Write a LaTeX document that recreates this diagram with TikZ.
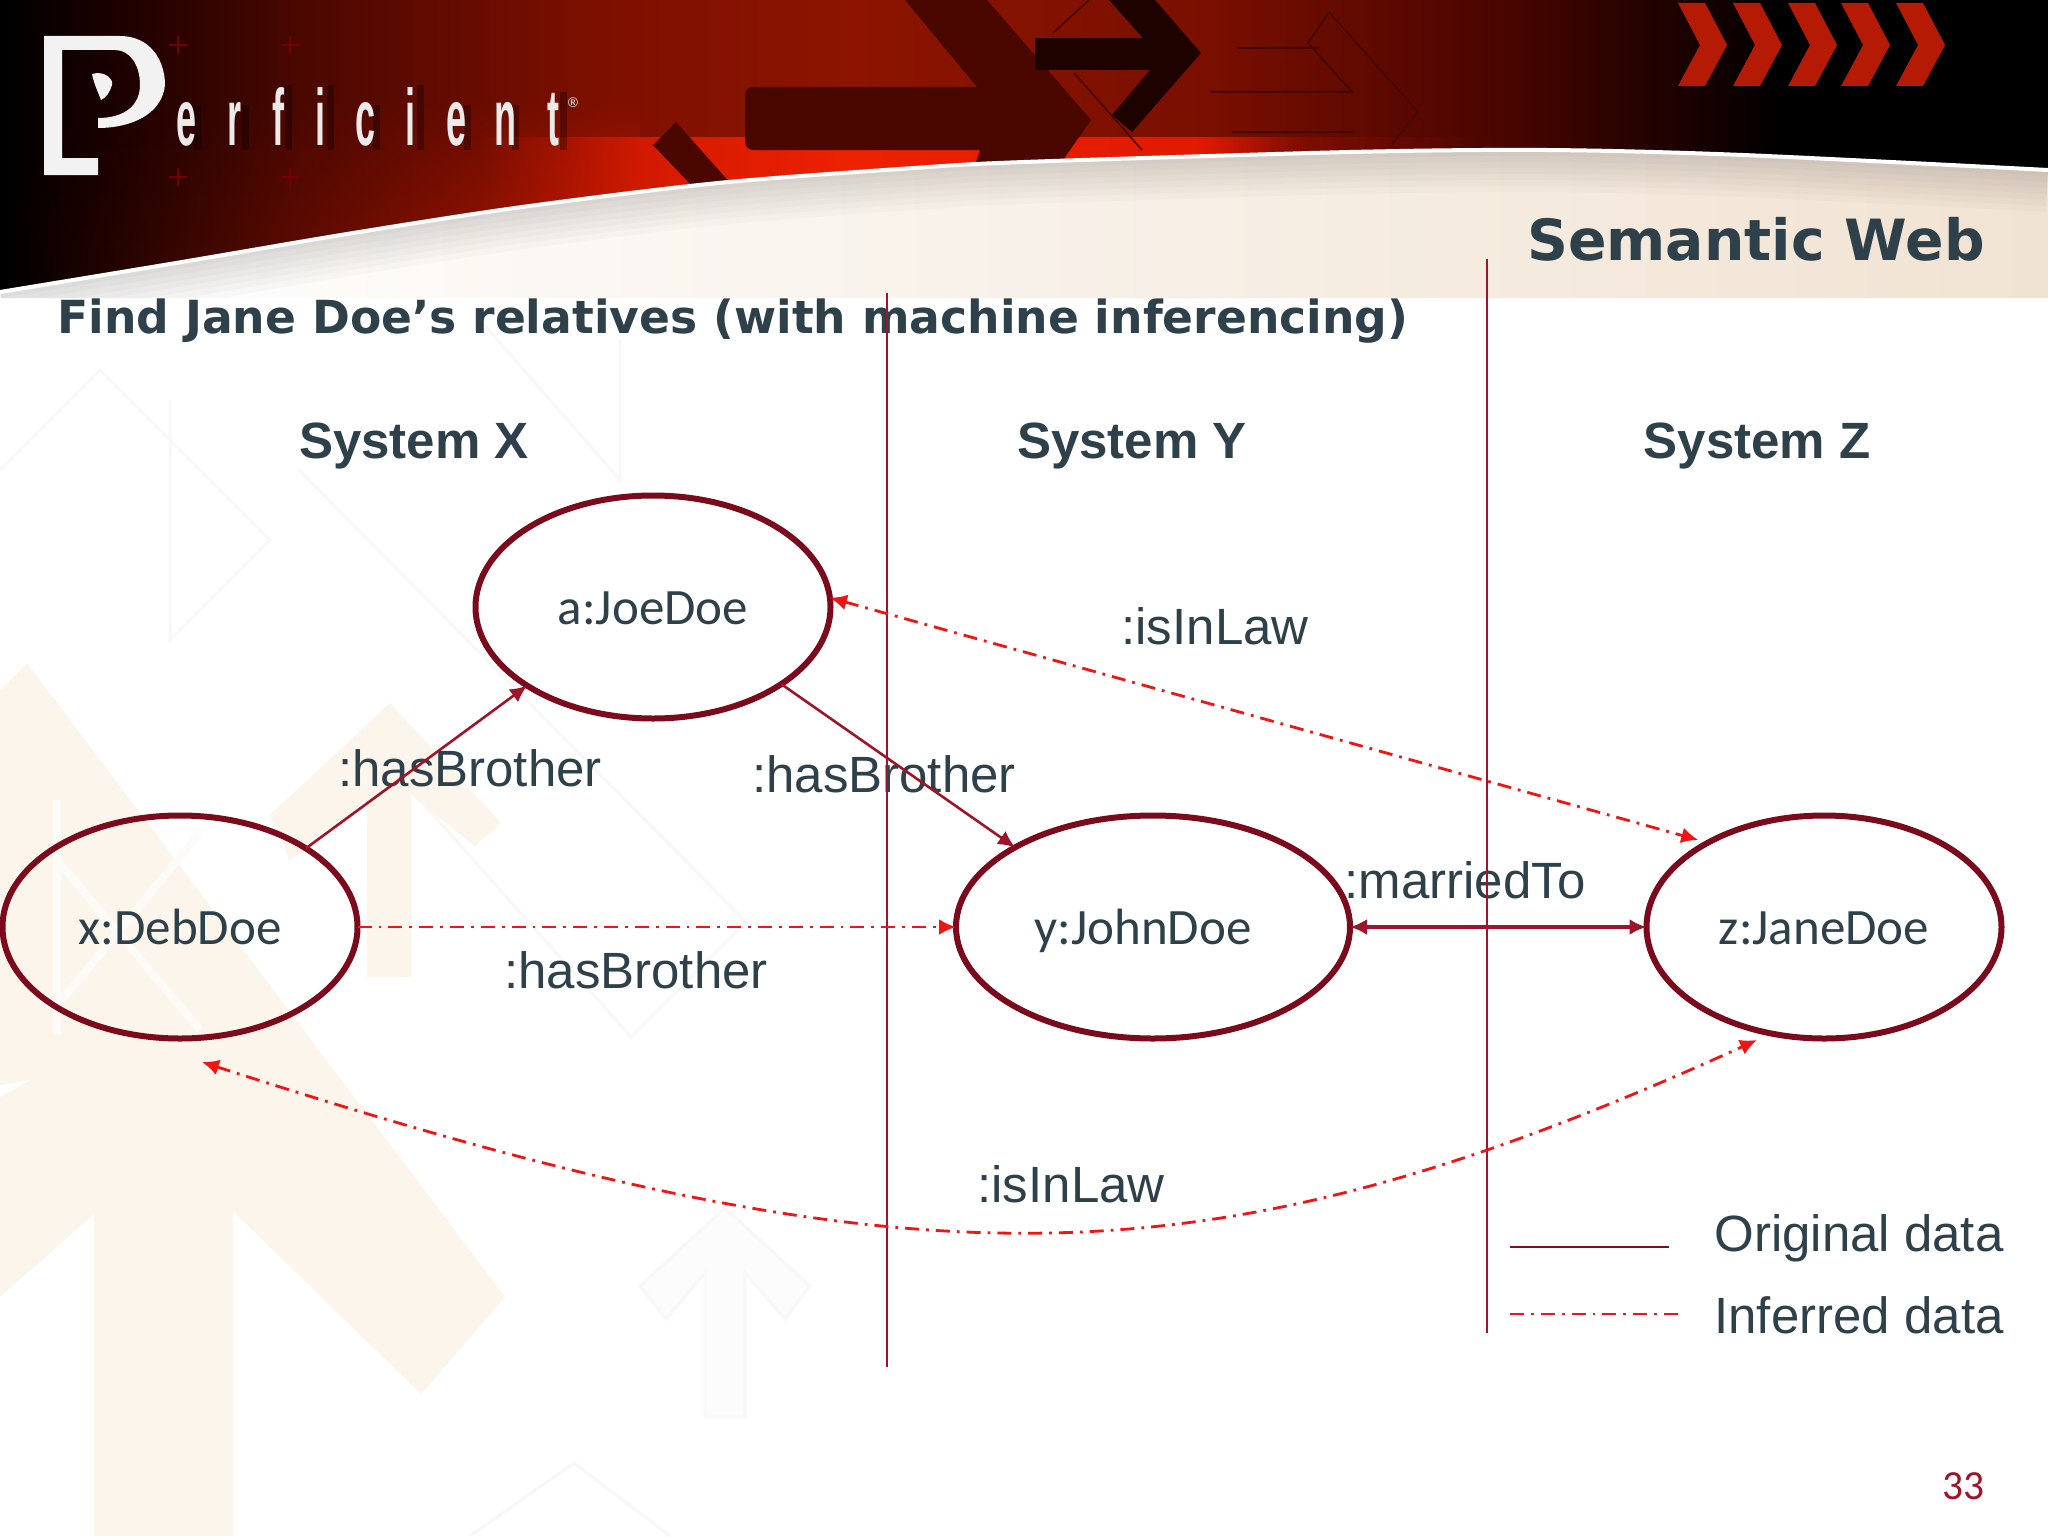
\documentclass[tikz,border=0pt]{standalone}
\usepackage{fontspec}
\usetikzlibrary{arrows.meta,shapes.geometric,fadings}
\newfontfamily\arialf{Liberation Sans}
\newfontfamily\calibrif{Carlito}
\newfontfamily\verdanaf{DejaVu Sans}
\definecolor{slate}{HTML}{2E404A}
\definecolor{maroon}{HTML}{7B0A1C}
\definecolor{origred}{HTML}{A0142A}
\definecolor{infred}{HTML}{F01414}
\definecolor{wmcream}{HTML}{FBF5EB}
\definecolor{wmgrey}{HTML}{F8F8F7}
\definecolor{hdrdark}{HTML}{4A0700}
\definecolor{hdrblack}{HTML}{1E0200}
\definecolor{chevred}{HTML}{B51A05}
\definecolor{bandcream}{HTML}{F1E3D3}
\definecolor{fadered}{rgb}{0.82,0.1,0}
\pgfdeclarehorizontalshading{hdrtop}{100bp}{rgb(0bp)=(0,0,0); rgb(25bp)=(0,0,0); rgb(27.4bp)=(0.09,0,0); rgb(32.3bp)=(0.29,0.03,0); rgb(39.6bp)=(0.49,0.06,0); rgb(45.8bp)=(0.55,0.08,0); rgb(54.3bp)=(0.48,0.06,0); rgb(61.6bp)=(0.29,0.02,0); rgb(68.5bp)=(0,0,0); rgb(100bp)=(0,0,0)}
\pgfdeclarehorizontalshading{hdrlow}{100bp}{rgb(0bp)=(0,0,0); rgb(25bp)=(0,0,0); rgb(27.4bp)=(0.09,0,0); rgb(32.3bp)=(0.29,0.03,0); rgb(36.7bp)=(0.41,0.05,0); rgb(40.6bp)=(0.82,0.1,0); rgb(45.8bp)=(0.93,0.13,0); rgb(54.3bp)=(0.88,0.1,0); rgb(56.7bp)=(0.5,0.05,0); rgb(61.6bp)=(0.29,0.02,0); rgb(68.5bp)=(0,0,0); rgb(100bp)=(0,0,0)}
\newcommand{\hdrcurve}{plot[smooth] coordinates {(0,292) (176,263) (353,233) (522,207) (718,183) (914,168) (1024,162) (1350,152) (1547,150) (1743,155) (2048,170)}}
\tikzset{
  sysnode/.style={ellipse, draw=maroon, line width=3pt, inner sep=0pt, outer sep=0pt, minimum width=177.5pt, minimum height=111.5pt, text=slate, text height=18pt, text depth=1pt, font=\calibrif\fontsize{25.5}{30}\selectfont},
  lbl/.style={inner sep=0pt, text=slate, font=\arialf\fontsize{25.5}{30}\selectfont},
  syslbl/.style={inner sep=0pt, text=slate, font=\arialf\bfseries\fontsize{25.5}{30}\selectfont},
  original/.style={draw=origred, line width=1.3pt},
  inferred/.style={draw=infred, line width=1.4pt, dash pattern=on 7pt off 3.5pt on 1.4pt off 3.5pt},
  tipboth/.style={{Latex[length=8.5pt,width=8pt]}-{Latex[length=8.5pt,width=8pt]}},
  tipend/.style={-{Latex[length=8.5pt,width=8pt]}},
  divider/.style={draw=origred, line width=1.2pt},
  logoltr/.style={inner sep=0pt, anchor=base, text=white!92!black, font=\arialf\bfseries\fontsize{40}{40}\selectfont}
}
\begin{document}
\begin{tikzpicture}[x=0.5pt,y=-0.5pt]
    \useasboundingbox (0,0) rectangle (2048,1536);
    \fill[white] (0,0) rectangle (2048,1536);

    \fill[wmcream] (0,691) -- (27,663) -- (505,1297) -- (421,1394) -- (233,1211) -- (233,1536) -- (94,1536) -- (94,1214) -- (0,1297) -- cycle;
    \fill[wmcream] (390,703) -- (501,823) -- (475,846) -- (411,795) -- (411,977) -- (367,977) -- (367,800) -- (290,860) -- (270,815) -- cycle;
    \draw[white!60!wmcream, line width=4pt] (57,1006) -- (199,834) (57,800) -- (57,1034);
    \fill[white] (0,1085) -- (30,1080) -- (0,1097) -- cycle;
    \draw[white!60!wmcream, line width=4pt] (57,860) -- (200,1030);
    \draw[wmgrey, fill=white!60!wmgrey, line width=1.5pt] (725,1208) -- (810,1286) -- (785,1319) -- (745,1273) -- (745,1417) -- (705,1417) -- (705,1273) -- (666,1319) -- (640,1286) -- cycle;
    \draw[wmgrey, line width=1.5pt] (298,469) -- (746,922) -- (631,1037) -- (420,800);
    \draw[wmgrey, line width=1.5pt] (0,470) -- (100,370) -- (270,540) -- (170,640) -- (170,400);
    \draw[wmgrey, line width=1.5pt] (480,320) -- (620,480) -- (620,340);
    \draw[wmgrey, line width=1.5pt] (470,1536) -- (574,1463) -- (670,1536);

    \shade[shading=hdrtop] (0,0) rectangle (2048,294);
    \begin{scope}
        \clip (480,137) rectangle (2048,294);
        \shade[shading=hdrlow] (0,137) rectangle (2048,294);
    \end{scope}
    \shade[left color=black, right color=fadered, path fading=north] (0,100) rectangle (640,294);

    \fill[hdrdark] (676,122) -- (653,145) -- (696,190) -- (732,185) -- cycle;
    \fill[hdrdark, rounded corners=4pt] (745,87) rectangle (1000,150);
    \fill[hdrdark] (905,0) -- (987,0) -- (1091,120) -- (1063,160) -- (975,165) -- (990,120) -- (977,87) -- cycle;
    \fill[hdrblack] (1035,38) rectangle (1150,70);
    \fill[hdrblack] (1109,0) -- (1155,0) -- (1201,53) -- (1132,132) -- (1112,115) -- (1150,70) -- (1142,37) -- cycle;
    \draw[hdrdark, line width=0.8pt] (1053,33) -- (1089,0) (1074,73) -- (1142,150) (1329,12) -- (1418,112) -- (1390,147);
    \draw[hdrdark, line width=1pt] (1211,92) -- (1352,92) -- (1308,43) (1232,132) -- (1354,132) (1237,48) -- (1319,48) (1329,12) -- (1308,43);

    \foreach \chevx in {1678,1733,1788,1841,1896}
        \fill[chevred] (\chevx,3) -- (\chevx+27,3) -- (\chevx+49,45) -- (\chevx+27,86) -- (\chevx,86) -- (\chevx+22,45) -- cycle;

    \foreach \crossx/\crossy in {178/45, 290/45, 178/177, 290/177}
        \draw[red!45!black, line width=1pt] (\crossx-9,\crossy) -- (\crossx+9,\crossy) (\crossx,\crossy-9) -- (\crossx,\crossy+9);

    \fill[white!95!black] (44,36) -- (120,36) .. controls (150,36) and (165,60) .. (165,85) .. controls (162,115) and (130,128) .. (98,128) -- (98,118) .. controls (125,118) and (140,105) .. (140,85) .. controls (140,65) and (130,50) .. (115,50) -- (62,50) -- (62,158) -- (98,158) -- (98,175) -- (44,175) -- cycle;
    \fill[white!95!black] (92,74) .. controls (105,70) and (114,80) .. (112,85) .. controls (110,92) and (106,98) .. (101,100) .. controls (98,92) and (94,84) .. (92,74) -- cycle;
    \foreach \ltrx/\ltr/\ltrtop in {187/e/105, 235/r/105, 278/f/85, 320/i/85, 366/c/105, 410/i/85, 457/e/105, 505/n/105, 553/t/92} {
        \fill[black, opacity=.3] (\ltrx+7,\ltrtop) rectangle (\ltrx+14,150);
        \node[logoltr] (ltr\ltrx) at (\ltrx,145) {\scalebox{.45}[1]{\ltr}};
    }
    \node[inner sep=0pt, text=white!80!black, font=\arialf\bfseries\fontsize{7}{7}\selectfont] (logoreg) at (573,103) {®};

    \shade[left color=white, right color=bandcream] \hdrcurve -- (2048,298) -- (0,298) -- cycle;
    \begin{scope}
        \clip \hdrcurve -- (2048,298) -- (0,298) -- cycle;
        \foreach \bandw in {6,12,...,42}
            \draw[black, opacity=.018, line width=\bandw pt] \hdrcurve;
    \end{scope}
    \draw[white, line width=2pt] \hdrcurve;

    \node[inner sep=0pt, text=slate, font=\verdanaf\bfseries\fontsize{28.4}{32}\selectfont] (semweb) at (1756,239) {Semantic Web};
    \node[inner sep=0pt, anchor=west, text=slate, font=\verdanaf\bfseries\fontsize{22.8}{26}\selectfont] (findjane) at (57,321) {Find Jane Doe’s relatives (with machine inferencing)};

    \node[syslbl] (sysx) at (414,446) {System X};
    \node[syslbl] (sysy) at (1132,446) {System Y};
    \node[syslbl] (sysz) at (1757,446) {System Z};

    \node[lbl] (brotherax) at (470,768) {:hasBrother};
    \node[lbl] (brotherya) at (884,774) {:hasBrother};
    \node[lbl] (brotheryx) at (636,970) {:hasBrother};
    \node[lbl] (lawaz) at (1215,626) {:isInLaw};
    \node[lbl] (lawxz) at (1071,1184) {:isInLaw};
    \node[lbl] (married) at (1465,880) {:marriedTo};
    \node[lbl, anchor=west] (legorig) at (1714,1238) {Original data};
    \node[lbl, anchor=west] (leginf) at (1714,1315) {Inferred data};
    \node[inner sep=0pt, text=origred, font=\calibrif\fontsize{20.7}{24}\selectfont] (pagenum) at (1963,1486) {33};

    \node[sysnode] (xdeb) at (180,927) {x:DebDoe};
    \node[sysnode] (ajoe) at (653,607) {a:JoeDoe};
    \node[sysnode, minimum width=197pt] (yjohn) at (1153,927) {y:JohnDoe\kern10pt\relax};
    \node[sysnode] (zjane) at (1824,927) {z:JaneDoe};

    \coordinate (divxtop) at (887,293);
    \coordinate (divxbot) at (887,1367);
    \coordinate (divytop) at (1487,259);
    \coordinate (divybot) at (1487,1333);
    \draw[divider] (divxtop) -- (divxbot);
    \draw[divider] (divytop) -- (divybot);

    \draw[original, tipend] (xdeb.32) -- (ajoe.212);
    \draw[original, tipend] (ajoe.-31) -- (yjohn.150);
    \draw[original, tipboth, line width=1.6pt] (yjohn.east) -- (zjane.west);
    \draw[inferred, tipend] (xdeb.east) -- (yjohn.west);
    \draw[inferred, tipboth, shorten >=5pt] (ajoe.3) -- (zjane.144);

    \coordinate (lawleft) at (202,1062);
    \coordinate (lawright) at (1757,1040);
    \draw[inferred, tipboth] (lawleft) .. controls (914,1292) and (1202,1292) .. (lawright);

    \coordinate (legsolidl) at (1510,1247);
    \coordinate (legsolidr) at (1669,1247);
    \coordinate (legdashl) at (1510,1314);
    \coordinate (legdashr) at (1678,1314);
    \draw[original, draw=maroon!90!red, line width=1.2pt] (legsolidl) -- (legsolidr);
    \draw[inferred] (legdashl) -- (legdashr);
\end{tikzpicture}
\end{document}
